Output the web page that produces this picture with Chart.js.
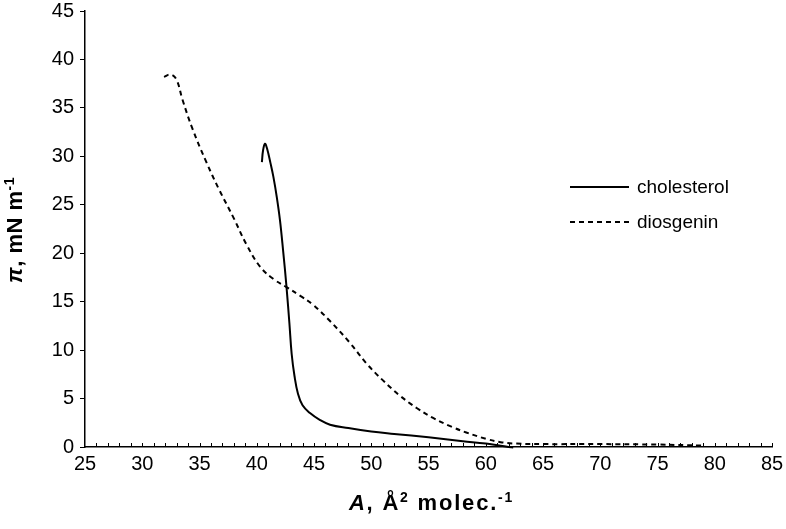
<!DOCTYPE html>
<html>
<head>
<meta charset="utf-8">
<title>Surface pressure isotherms</title>
<script src="https://cdn.jsdelivr.net/npm/chart.js@4/dist/chart.umd.min.js"></script>
<style>
  html, body { margin: 0; padding: 0; background: #fff; }
</style>
</head>
<body>
<canvas id="isothermChart" width="786" height="529"></canvas>
<script>
// values: area per molecule (Å²) and surface pressure (mN/m)
const cholesterolA  = [40.45, 40.55, 40.72, 40.9, 41.2, 41.45, 41.75, 42.03, 42.3, 42.6, 42.85, 43.05, 43.3, 43.6, 44.0, 44.65, 45.5, 46.4, 48.0, 50.0, 52.0, 55.0, 58.0, 60.0, 61.3, 62.4];
const cholesterolPi = [29.4, 30.6, 31.3, 30.8, 29.3, 27.9, 25.8, 23.4, 20.3, 16.5, 12.8, 9.6, 7.3, 5.5, 4.3, 3.5, 2.8, 2.3, 1.95, 1.6, 1.35, 1.0, 0.6, 0.35, 0.12, -0.05];

const diosgeninA  = [31.9, 32.5, 33.0, 33.5, 34.4, 35.6, 36.7, 38.0, 39.1, 40.3, 41.5, 42.6, 43.8, 44.9, 46.4, 48.1, 49.6, 51.0, 52.5, 54.0, 55.4, 57.0, 58.3, 60.0, 61.3, 62.7, 65.0, 70.0, 75.0, 79.0];
const diosgeninPi = [38.2, 38.45, 37.9, 35.9, 32.8, 29.4, 26.6, 23.6, 20.9, 18.6, 17.3, 16.5, 15.6, 14.7, 13.0, 10.8, 8.6, 6.9, 5.3, 4.0, 3.0, 2.1, 1.5, 0.85, 0.5, 0.35, 0.3, 0.3, 0.25, 0.15];

const seriesNames = ['cholesterol', 'diosgenin'];

const xMin = 25, xMax = 85, xStep = 5;
const yMin = 0, yMax = 45, yStep = 5;

const fontFamily = '"Liberation Sans", Arial, sans-serif';

function toPoints(xs, ys) {
  return xs.map((v, i) => ({ x: v, y: ys[i] }));
}

// draws a line of text made of pieces with different fonts / raised superscripts
function drawRichText(ctx, parts, cx, baseline, spacing) {
  ctx.letterSpacing = (spacing || 0) + 'px';
  let total = 0;
  parts.forEach(p => { ctx.font = p.font; total += ctx.measureText(p.text).width; });
  let cur = cx - total / 2;
  ctx.textAlign = 'left';
  ctx.textBaseline = 'alphabetic';
  parts.forEach(p => {
    ctx.font = p.font;
    ctx.fillText(p.text, cur, baseline - (p.rise || 0));
    cur += ctx.measureText(p.text).width;
  });
  ctx.letterSpacing = '0px';
}

const extras = {
  id: 'extras',
  afterDraw(chart) {
    const { ctx, chartArea, scales: { x } } = chart;
    ctx.save();
    ctx.fillStyle = '#000';
    ctx.strokeStyle = '#000';

    // small inward ticks on the x axis, one per unit
    ctx.lineWidth = 1;
    ctx.beginPath();
    for (let v = xMin + 1; v <= xMax; v++) {
      const px = Math.round(x.getPixelForValue(v)) + 0.5;
      ctx.moveTo(px, chartArea.bottom);
      ctx.lineTo(px, chartArea.bottom - 4);
    }
    ctx.stroke();

    // axis titles
    const big = 'bold 22px ' + fontFamily;
    const bigIt = 'italic bold 22px ' + fontFamily;
    const small = 'bold 14px ' + fontFamily;
    const midX = (chartArea.left + chartArea.right) / 2;
    drawRichText(ctx, [
      { text: 'A', font: bigIt },
      { text: ', Å', font: big },
      { text: '2', font: small, rise: 8 },
      { text: ' molec.', font: big },
      { text: '-1', font: small, rise: 8 }
    ], midX + 3, 510, 1.8);

    ctx.save();
    ctx.translate(22, (chartArea.top + chartArea.bottom) / 2 + 1);
    ctx.rotate(-Math.PI / 2);
    drawRichText(ctx, [
      { text: 'π', font: bigIt },
      { text: ', mN m', font: big },
      { text: '-1', font: small, rise: 8 }
    ], 0, 0, 0.5);
    ctx.restore();

    // legend, drawn from the datasets
    ctx.font = '19px ' + fontFamily;
    ctx.textAlign = 'left';
    ctx.textBaseline = 'middle';
    chart.data.datasets.forEach((ds, i) => {
      const yy = 187 + i * 35;
      ctx.lineWidth = 2;
      ctx.setLineDash(ds.borderDash || []);
      ctx.beginPath();
      ctx.moveTo(570, yy);
      ctx.lineTo(629, yy);
      ctx.stroke();
      ctx.setLineDash([]);
      ctx.fillText(ds.label, 637, yy + 1);
    });
    ctx.restore();
  }
};

const ctx = document.getElementById('isothermChart').getContext('2d');
const isothermChart = new Chart(ctx, {
  type: 'scatter',
  data: {
    datasets: [
      {
        label: seriesNames[0],
        data: toPoints(cholesterolA, cholesterolPi),
        showLine: true,
        borderColor: '#000',
        borderWidth: 2,
        pointRadius: 0,
        tension: 0.4
      },
      {
        label: seriesNames[1],
        data: toPoints(diosgeninA, diosgeninPi),
        showLine: true,
        borderColor: '#000',
        borderWidth: 2,
        borderDash: [5, 4],
        pointRadius: 0,
        tension: 0.4
      }
    ]
  },
  options: {
    responsive: false,
    animation: false,
    clip: false,
    layout: { padding: { top: 11, right: 14, left: 0, bottom: 0 } },
    plugins: {
      legend: { display: false },
      tooltip: { enabled: false }
    },
    scales: {
      x: {
        type: 'linear',
        min: xMin,
        max: xMax,
        border: { color: '#000', width: 1.5 },
        grid: { display: true, drawOnChartArea: false, drawTicks: false },
        ticks: {
          stepSize: xStep,
          padding: 7,
          color: '#000',
          font: { family: fontFamily, size: 20, lineHeight: 1 },
          maxRotation: 0
        },
        afterFit(scale) {
          scale.height = 82;
          scale.paddingLeft = 0;
          scale.paddingRight = 0;
        }
      },
      y: {
        min: yMin,
        max: yMax,
        border: { color: '#000', width: 1.5 },
        grid: { drawOnChartArea: false, drawTicks: true, tickLength: 5, color: '#000' },
        ticks: {
          stepSize: yStep,
          padding: 6,
          color: '#000',
          font: { family: fontFamily, size: 20, lineHeight: 1 }
        },
        afterFit(scale) {
          scale.width = 85;
          scale.paddingTop = 0;
          scale.paddingBottom = 0;
        }
      }
    }
  },
  plugins: [extras]
});
</script>
</body>
</html>
